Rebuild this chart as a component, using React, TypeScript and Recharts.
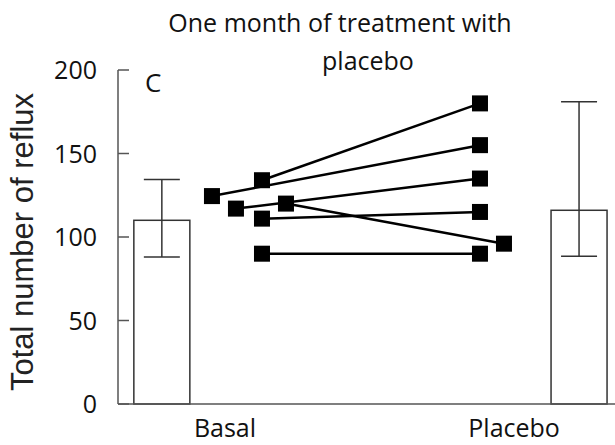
import { ComposedChart, Bar, ErrorBar, Scatter, XAxis, YAxis } from 'recharts';

// group labels and where they sit on the x scale
const categories = ['Basal', 'Placebo'];
const categoryPos = [1, 2];

// mean bars with asymmetric error bars
const barPos = [0.782, 2.225];
const means = [110, 116];
const errLow = [22, 27.5];
const errHigh = [24.5, 65];

const yTicks = [0, 50, 100, 150, 200];

// individual patients: basal vs placebo values and marker spots on the x scale
const basalValues = [124.5, 117, 134, 111, 120, 90];
const placeboValues = [155, 135, 180, 115, 96, 90];
const basalX = [0.955, 1.038, 1.128, 1.128, 1.211, 1.128];
const placeboX = [1.882, 1.882, 1.882, 1.882, 1.965, 1.882];

const barData = barPos.map((x, i) => ({
  x,
  mean: means[i],
  err: [errLow[i], errHigh[i]],
}));

const patients = basalValues.map((v, i) => [
  { x: basalX[i], y: v },
  { x: placeboX[i], y: placeboValues[i] },
]);

const FUT = '"Open Sans", sans-serif';
const AXIS = '#555';
const BAR_W = 56;

function YTick(props: any) {
  const { x, y, payload } = props;
  return (
    <g>
      <line x1={x} y1={y} x2={x + 11} y2={y} stroke={AXIS} strokeWidth={1.5} />
      <text x={x - 21} y={y + 9} textAnchor="end" fontSize={25} fontFamily={FUT} fill="#111">
        {payload.value}
      </text>
    </g>
  );
}

function XTick(props: any) {
  const { x, y, payload } = props;
  const idx = categoryPos.indexOf(payload.value);
  return (
    <text x={x} y={y + 33} textAnchor="middle" fontSize={25} fontFamily={FUT} fill="#111">
      {categories[idx]}
    </text>
  );
}

// fixed-width open bar centred on the slot recharts gives
const OpenBar = (p: any) => {
  const cx = p.x + p.width / 2;
  return (
    <rect
      x={cx - BAR_W / 2}
      y={p.y}
      width={BAR_W}
      height={p.height}
      fill="#fff"
      stroke="#333"
      strokeWidth={1.5}
    />
  );
};

const Square = (p: any) => (
  <rect x={p.cx - 8} y={p.cy - 8} width={16} height={16} fill="#000" />
);

export default function App() {
  return (
    <div style={{ position: 'absolute', left: 0, top: 0, width: 615, height: 445, background: '#fff' }}>
      <ComposedChart
        width={615}
        height={445}
        data={barData}
        margin={{ top: 70, right: 0, bottom: 0, left: 0 }}
      >
        <XAxis
          type="number"
          dataKey="x"
          domain={[0.63, 2.349]}
          allowDataOverflow
          ticks={categoryPos}
          tick={<XTick />}
          tickLine={false}
          tickSize={0}
          tickMargin={0}
          height={41}
          axisLine={{ stroke: AXIS, strokeWidth: 1.5 }}
        />
        <YAxis
          type="number"
          domain={[0, 200]}
          ticks={yTicks}
          width={118}
          tick={<YTick />}
          tickLine={false}
          tickSize={0}
          tickMargin={0}
          axisLine={{ stroke: AXIS, strokeWidth: 1.5 }}
        />
        <Bar dataKey="mean" shape={<OpenBar />} isAnimationActive={false}>
          <ErrorBar dataKey="err" direction="y" width={18} stroke="#333" strokeWidth={1.5} />
        </Bar>
        {patients.map((d, i) => (
          <Scatter
            key={i}
            data={d}
            dataKey="y"
            fill="#000"
            line={{ stroke: '#000', strokeWidth: 2.5 }}
            shape={<Square />}
            isAnimationActive={false}
          />
        ))}
      </ComposedChart>
      <svg
        width={615}
        height={445}
        style={{ position: 'absolute', left: 0, top: 0, pointerEvents: 'none' }}
      >
        <text x={340} y={32} textAnchor="middle" fontSize={25} fontFamily={FUT} fill="#111">
          One month of treatment with
        </text>
        <text x={368} y={70} textAnchor="middle" fontSize={25} fontFamily={FUT} fill="#111">
          placebo
        </text>
        <text x={145} y={92} fontSize={26} fontFamily={FUT} fill="#111">
          C
        </text>
        <text
          transform="translate(33,242) rotate(-90)"
          textAnchor="middle"
          fontSize={31}
          fontFamily='"Liberation Sans", Arial, sans-serif'
          fill="#222"
        >
          Total number of reflux
        </text>
      </svg>
    </div>
  );
}
